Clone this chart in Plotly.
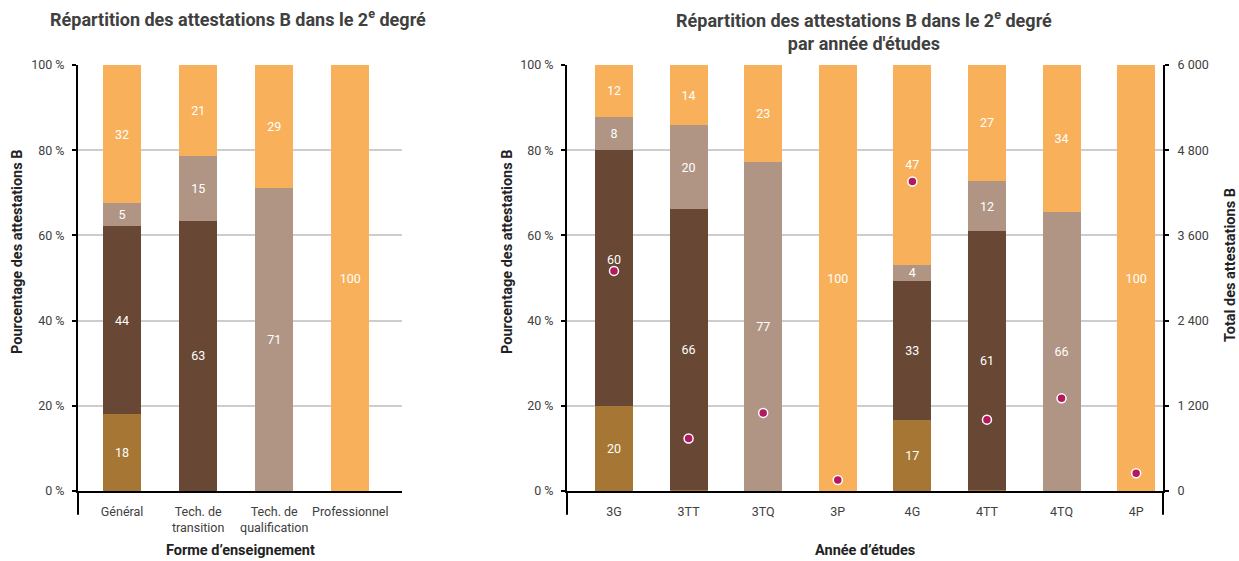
import plotly.graph_objects as go

# ---------------- data ----------------
forms = ["Général", "Tech. de<br>transition", "Tech. de<br>qualification", "Professionnel"]
left_gold = [18.0, 0.0, 0.0, 0.0]
left_dark = [44.2, 63.4, 0.0, 0.0]
left_taupe = [5.4, 15.2, 71.1, 0.0]
left_orange = [32.4, 21.4, 28.9, 100.0]

years = ["3G", "3TT", "3TQ", "3P", "4G", "4TT", "4TQ", "4P"]
right_gold = [20.0, 0.3, 0.0, 0.0, 16.6, 0.3, 0.0, 0.0]
right_dark = [60.0, 65.9, 0.0, 0.0, 32.7, 60.7, 0.0, 0.0]
right_taupe = [7.8, 19.7, 77.2, 0.0, 3.8, 11.8, 65.6, 0.0]
right_orange = [12.2, 14.1, 22.8, 100.0, 46.9, 27.2, 34.4, 100.0]
right_totals = [3100, 740, 1100, 155, 4360, 1005, 1305, 250]

pct_ticks = [0, 20, 40, 60, 80, 100]
pct_labels = ["0 %", "20 %", "40 %", "60 %", "80 %", "100 %"]
tot_ticks = [0, 1200, 2400, 3600, 4800, 6000]
tot_labels = ["0", "1 200", "2 400", "3 600", "4 800", "6 000"]

colors = ["#a57634", "#684834", "#b09585", "#f9b05a"]

# ---------------- style ----------------
FONT = "Roboto, Arial, sans-serif"
TXT = "#404040"
W, H = 1239, 561
T, B = 65, 70
PH = H - T - B


def px_x(p):
    return p / W


def px_y(p):
    return (H - B - p) / PH


def labels(vals, skip=()):
    return ["" if (v < 2 or i in skip) else f"{round(v)}" for i, v in enumerate(vals)]


fig = go.Figure()

for vals, col in zip([left_gold, left_dark, left_taupe, left_orange], colors):
    fig.add_trace(go.Bar(
        x=forms, y=vals, marker=dict(color=col, line=dict(width=0)),
        width=0.5, text=labels(vals), textposition="inside",
        insidetextanchor="middle", textangle=0,
        textfont=dict(color="white", size=12.5, family=FONT),
        xaxis="x", yaxis="y", hoverinfo="skip"))

for k, (vals, col) in enumerate(zip([right_gold, right_dark, right_taupe, right_orange], colors)):
    skip = (0,) if k == 1 else ()
    fig.add_trace(go.Bar(
        x=years, y=vals, marker=dict(color=col, line=dict(width=0)),
        width=0.51, text=labels(vals, skip), textposition="inside",
        insidetextanchor="middle", textangle=0,
        textfont=dict(color="white", size=12.5, family=FONT),
        xaxis="x2", yaxis="y2", hoverinfo="skip"))

fig.add_trace(go.Scatter(
    x=years, y=right_totals, mode="markers",
    marker=dict(color="#b3195f", size=9, line=dict(color="white", width=1.5)),
    xaxis="x2", yaxis="y3", hoverinfo="skip"))

tickfont = dict(size=12.5, color=TXT, family=FONT)
yax = dict(range=[0, 100], tickvals=pct_ticks, ticktext=pct_labels,
           showgrid=True, gridcolor="#cdcdcd", gridwidth=2,
           showline=True, linecolor="black", linewidth=2,
           ticks="outside", ticklen=4, tickwidth=1.5, tickcolor="black",
           ticklabelstandoff=5,
           zeroline=False, tickfont=tickfont, fixedrange=True)
yin = dict(range=[0, 100], tickvals=pct_ticks, showticklabels=False,
           showgrid=False, zeroline=False, showline=False,
           ticks="inside", ticklen=4, tickwidth=1.5, tickcolor="black",
           fixedrange=True)
xax = dict(type="category", showline=True, linecolor="black", linewidth=2,
           ticks="", showgrid=False, zeroline=False, ticklabelstandoff=8,
           tickfont=tickfont, fixedrange=True)

fig.update_layout(
    width=W, height=H,
    margin=dict(l=0, r=0, t=T, b=B),
    barmode="stack", showlegend=False,
    plot_bgcolor="white", paper_bgcolor="white",
    uniformtext=dict(minsize=12, mode="show"),
    font=dict(family=FONT, color=TXT),
    xaxis=dict(xax, domain=[px_x(78), px_x(402)], range=[-0.58, 3.68], anchor="y"),
    yaxis=dict(yax, anchor="x"),
    xaxis2=dict(xax, domain=[px_x(567), px_x(1163)], range=[-0.63, 7.36], anchor="y2"),
    yaxis2=dict(yax, anchor="x2"),
    yaxis3=dict(range=[0, 6000], tickvals=tot_ticks, ticktext=tot_labels,
                overlaying="y2", side="right", anchor="x2",
                showgrid=False, zeroline=False,
                showline=True, linecolor="black", linewidth=2,
                ticks="outside", ticklen=4, tickwidth=1.5, tickcolor="black",
                ticklabelstandoff=6,
                tickfont=tickfont, fixedrange=True),
    yaxis4=dict(yin, overlaying="y", anchor="x", side="left"),
    yaxis5=dict(yin, overlaying="y2", anchor="x2", side="left"),
    yaxis6=dict(yin, range=[0, 6000], tickvals=tot_ticks, overlaying="y2", anchor="x2", side="right"),
)

# axis line extensions below the baseline
ext = dict(type="line", line=dict(color="black", width=2))
fig.add_shape(ext, xref="x domain", yref="y domain", x0=0, x1=0, y0=-0.056, y1=0)
fig.add_shape(ext, xref="x2 domain", yref="y2 domain", x0=0, x1=0, y0=-0.056, y1=0)
fig.add_shape(ext, xref="x2 domain", yref="y2 domain", x0=1, x1=1, y0=-0.056, y1=0)

ann = []
# label of 3G dark segment, lifted above the total marker as in the source
ann.append(dict(text=f"{round(right_dark[0])}", x=years[0],
                y=right_gold[0] + right_dark[0] / 2, xref="x2", yref="y2",
                yshift=19, showarrow=False,
                font=dict(color="white", size=12.5, family=FONT)))
title_font = dict(size=18, color=TXT, family=FONT)
ann.append(dict(text="<b>Répartition des attestations B dans le 2<sup>e</sup> degré</b>",
                x=px_x(238), y=px_y(18), xref="paper", yref="paper",
                showarrow=False, font=title_font, xanchor="center", yanchor="middle"))
ann.append(dict(text="<b>Répartition des attestations B dans le 2<sup>e</sup> degré<br>par année d'études</b>",
                x=px_x(864), y=px_y(30), xref="paper", yref="paper",
                showarrow=False, font=title_font, xanchor="center", yanchor="middle"))
axt_font = dict(size=14.5, color="#222222", family=FONT)
ann.append(dict(text="<b>Pourcentage des attestations B</b>", textangle=-90,
                x=px_x(17), y=px_y(252), xref="paper", yref="paper",
                showarrow=False, font=axt_font, xanchor="center", yanchor="middle"))
ann.append(dict(text="<b>Pourcentage des attestations B</b>", textangle=-90,
                x=px_x(507), y=px_y(252), xref="paper", yref="paper",
                showarrow=False, font=axt_font, xanchor="center", yanchor="middle"))
ann.append(dict(text="<b>Total des attestations B</b>", textangle=-90,
                x=px_x(1230), y=px_y(265), xref="paper", yref="paper",
                showarrow=False, font=axt_font, xanchor="center", yanchor="middle"))
ann.append(dict(text="<b>Forme d’enseignement</b>",
                x=px_x(240), y=px_y(550), xref="paper", yref="paper",
                showarrow=False, font=axt_font, xanchor="center", yanchor="middle"))
ann.append(dict(text="<b>Année d’études</b>",
                x=px_x(865), y=px_y(550), xref="paper", yref="paper",
                showarrow=False, font=axt_font, xanchor="center", yanchor="middle"))
fig.update_layout(annotations=ann)

fig.write_html("out.html", config={"displayModeBar": False},
               post_script="document.body.style.margin='0px';")
